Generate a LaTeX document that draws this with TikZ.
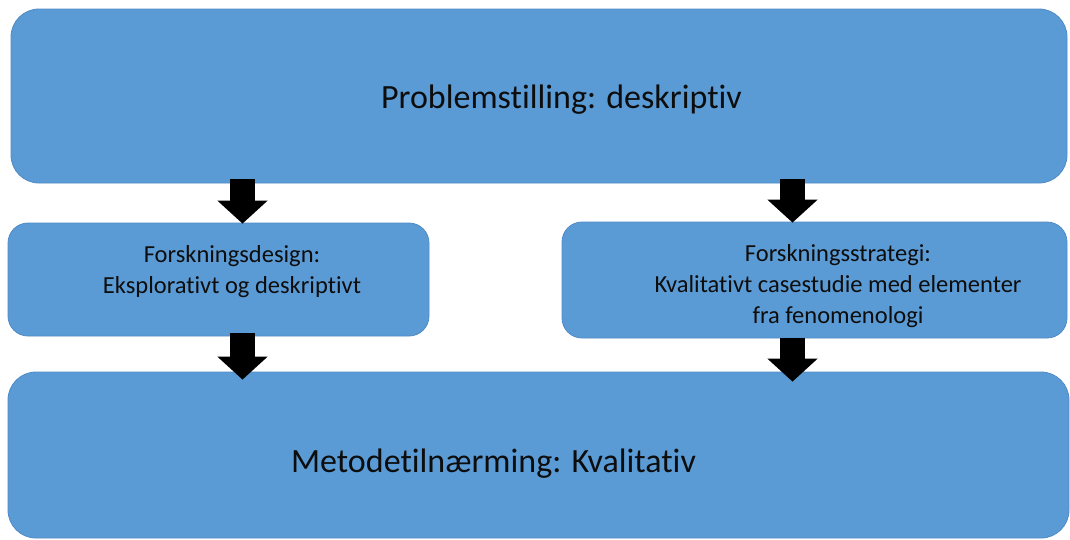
\documentclass[tikz,border=0pt]{standalone}
\usepackage{fontspec}
\setmainfont{Carlito}[Ligatures=NoCommon]
\usetikzlibrary{arrows.meta,calc}
\definecolor{boxfill}{HTML}{5B9BD5}
\definecolor{boxline}{HTML}{4F8AC5}
\definecolor{inktext}{HTML}{0D0D0D}
\begin{document}
\begin{tikzpicture}[x=1pt,y=-1pt,
  bigbox/.style={draw=boxline,fill=boxfill,line width=0.8pt,rounded corners=28pt,inner sep=0pt},
  smallbox/.style={draw=boxline,fill=boxfill,line width=0.8pt,rounded corners=20pt,inner sep=0pt},
  bigtext/.style={text=inktext,font=\fontsize{34}{40}\selectfont,inner sep=0pt},
  smalltext/.style={text=inktext,font=\fontsize{24.5}{31}\selectfont,align=center,inner sep=0pt},
  blockarrow/.style={line width=25pt,black,-{Triangle[width=49pt,length=23pt]}}]
\useasboundingbox (0,0) rectangle (1070,539);

% boxes
\node[bigbox,minimum width=1056pt,minimum height=174pt] (top) at (539,96) {};
\node[smallbox,minimum width=421pt,minimum height=113pt] (design) at (218.5,279.5) {};
\node[smallbox,minimum width=505pt,minimum height=116pt] (strategy) at (814.5,280) {};
\node[bigbox,minimum width=1061pt,minimum height=166pt] (method) at (538.5,455) {};

% texts
\node[bigtext,anchor=base] (toptext) at (561.5,108) {Problemstilling: deskriptiv};
\node[smalltext] (designtext) at (232,272) {Forskningsdesign:\\Eksplorativt og deskriptivt};
\node[smalltext] (strategytext) at (838,286) {Forskningsstrategi:\\Kvalitativt casestudie med elementer\\fra fenomenologi};
\node[bigtext,anchor=base] (methodtext) at (493.5,472) {Metodetilnærming: Kvalitativ};

% column positions of the arrows
\coordinate (lcol) at (242.5,0);
\coordinate (rcol) at (792.5,0);

% block arrows
\draw[blockarrow] ([yshift=4pt]top.south -| lcol) -- ([yshift=-1pt]design.north -| lcol);
\draw[blockarrow] ([yshift=4pt]top.south -| rcol) -- ([yshift=-1pt]strategy.north -| rcol);
\draw[blockarrow] ([yshift=3pt]design.south -| lcol) -- ([yshift=-8pt]method.north -| lcol);
\draw[blockarrow] ([yshift=0pt]strategy.south -| rcol) -- ([yshift=-10pt]method.north -| rcol);
\end{tikzpicture}
\end{document}
